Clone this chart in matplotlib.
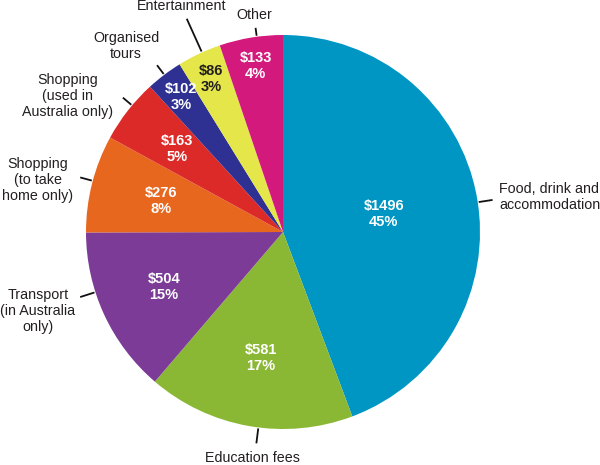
import numpy as np
import matplotlib.pyplot as plt

plt.rcParams["font.family"] = ["Liberation Sans", "DejaVu Sans"]

# data
categories = [
    "Food, drink and\naccommodation",
    "Education fees",
    "Transport\n(in Australia\nonly)",
    "Shopping\n(to take\nhome only)",
    "Shopping\n(used in\nAustralia only)",
    "Organised\ntours",
    "Entertainment",
    "Other",
]
spend = [1496, 581, 504, 276, 163, 102, 86, 133]
shares = [45, 17, 15, 8, 5, 3, 3, 4]
# slice sizes as drawn in the original (percent of the circle)
slice_share = [44.3, 17.0, 13.7, 8.0, 5.25, 3.0, 3.6, 5.2]
colors = ["#0096C3", "#8BB834", "#7B3B96", "#E8671F",
          "#DC2A28", "#2E3192", "#E4E64A", "#D4197D"]
inner_text_colors = ["white"] * 6 + ["#231F20", "white"]

# layout (pixel space, y measured from bottom)
cx, cy, R = 283, 233, 197
inner_r = [0.52, 0.65, 0.665, 0.64, 0.685, 0.86, 0.86, 0.855]
lead_nudge = [-1.6, 2.8, -7.0, -0.8, -1.9, 0.0, -0.9, -1.7]
lead_out = [212, 213, 213, 210, 209, 209, 234, 206]
label_xy = [(499, 268), (252, 7), (38, 154), (38, 285),
            (68, 369), (126, 419), (182, 459), (254, 450)]
label_ha = ["left"] + ["center"] * 7

fig = plt.figure(figsize=(6, 4.65), dpi=100)
ax = fig.add_axes([0, 0, 1, 1])
wedges, _ = ax.pie(slice_share, colors=colors, startangle=90, counterclock=False,
                   center=(cx, cy), radius=R,
                   wedgeprops=dict(linewidth=0))
ax.set_xlim(0, 600)
ax.set_ylim(0, 465)
ax.set_aspect("equal")
ax.axis("off")

for i, w in enumerate(wedges):
    mid = (w.theta1 + w.theta2) / 2

    a = np.deg2rad(mid)
    r = inner_r[i] * R
    ax.text(cx + r * np.cos(a), cy + r * np.sin(a),
            f"${spend[i]}\n{shares[i]}%", ha="center", va="center",
            fontsize=10.5, fontweight="bold", color=inner_text_colors[i],
            linespacing=1.15)

    b = np.deg2rad(mid + lead_nudge[i])
    r0, r1 = R + 1, lead_out[i]
    ax.plot([cx + r0 * np.cos(b), cx + r1 * np.cos(b)],
            [cy + r0 * np.sin(b), cy + r1 * np.sin(b)],
            color="#111111", lw=1.3, solid_capstyle="butt")

    lx, ly = label_xy[i]
    ax.text(lx, ly, categories[i], ha=label_ha[i], va="center",
            multialignment=label_ha[i], fontsize=10.3, color="#231F20",
            linespacing=1.2)

fig.savefig("out.png", dpi=100)
